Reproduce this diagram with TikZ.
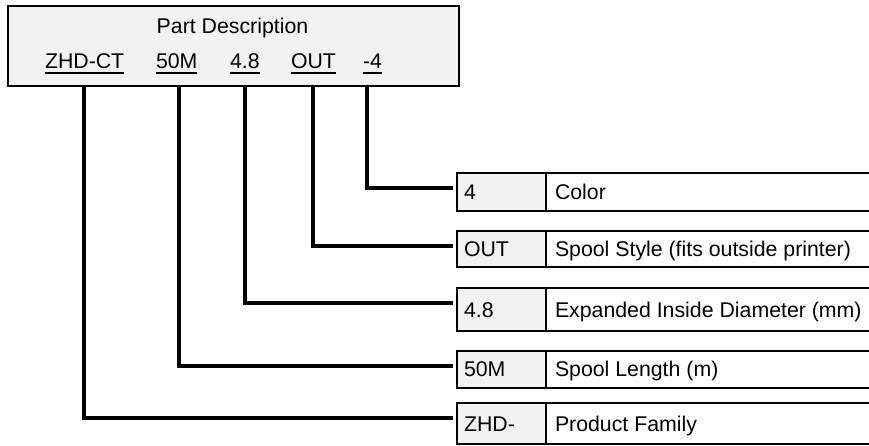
\documentclass[tikz,border=0pt]{standalone}
\usepackage{fontspec}
\setmainfont{Liberation Sans}
\definecolor{boxgray}{HTML}{F2F2F2}
\begin{document}
\begin{tikzpicture}[x=1pt,y=-1pt,
  txt/.style={inner sep=0pt, outer sep=0pt, font=\fontsize{21.3}{25}\selectfont},
  topbox/.style={draw, line width=2pt, fill=boxgray, inner sep=0pt, outer sep=0pt, anchor=north west},
  keycell/.style={draw, line width=2pt, fill=boxgray, minimum width=89pt, inner sep=0pt, outer sep=0pt, anchor=north west},
  desccell/.style={draw, line width=2pt, fill=white, minimum width=340pt, inner sep=0pt, outer sep=0pt, anchor=north west},
  conn/.style={line width=4pt, shorten >=4pt},
  uline/.style={line width=1.5pt}]
\useasboundingbox (0,0) rectangle (869,445);
\clip (0,0) rectangle (869,445);

% top box
\node[topbox, minimum width=451pt, minimum height=80.5pt] (top) at (7.5,5.5) {};
\node[txt, anchor=base] (title) at (232.5,33.3) {Part Description};
\node[txt, anchor=base west] (code1) at (45,68.5) {ZHD-CT};
\node[txt, anchor=base west] (code2) at (156,68.5) {50M};
\node[txt, anchor=base west] (code3) at (230,68.5) {4.8};
\node[txt, anchor=base west] (code4) at (291,68.5) {OUT};
\node[txt, anchor=base west] (code5) at (363,68.5) {-4};
\foreach \c in {code1,code2,code3,code4,code5}
  \draw[uline] ([yshift=-4.5pt]\c.base west) -- ([yshift=-4.5pt]\c.base east);

% rows
\node[keycell, minimum height=37.4pt] (k1) at (457,173.3) {};
\node[desccell, minimum height=37.4pt] (d1) at (k1.north east) {};
\node[keycell, minimum height=36.6pt] (k2) at (457,230.7) {};
\node[desccell, minimum height=36.6pt] (d2) at (k2.north east) {};
\node[keycell, minimum height=42.4pt] (k3) at (457,288.3) {};
\node[desccell, minimum height=42.4pt] (d3) at (k3.north east) {};
\node[keycell, minimum height=36.7pt] (k4) at (457,351) {};
\node[desccell, minimum height=36.7pt] (d4) at (k4.north east) {};
\node[keycell, minimum height=40.7pt] (k5) at (457,403.3) {};
\node[desccell, minimum height=40.7pt] (d5) at (k5.north east) {};

\node[txt, anchor=base west] (kt1) at ([xshift=7pt,yshift=-7.6pt]k1.west) {4};
\node[txt, anchor=base west] (dt1) at ([xshift=9pt,yshift=-7.6pt]d1.west) {Color};
\node[txt, anchor=base west] (kt2) at ([xshift=7pt,yshift=-7.6pt]k2.west) {OUT};
\node[txt, anchor=base west] (dt2) at ([xshift=9pt,yshift=-7.6pt]d2.west) {Spool Style (fits outside printer)};
\node[txt, anchor=base west] (kt3) at ([xshift=7pt,yshift=-7.6pt]k3.west) {4.8};
\node[txt, anchor=base west] (dt3) at ([xshift=9pt,yshift=-7.6pt]d3.west) {Expanded Inside Diameter (mm)};
\node[txt, anchor=base west] (kt4) at ([xshift=7pt,yshift=-7.6pt]k4.west) {50M};
\node[txt, anchor=base west] (dt4) at ([xshift=9pt,yshift=-7.6pt]d4.west) {Spool Length (m)};
\node[txt, anchor=base west] (kt5) at ([xshift=7pt,yshift=-7.6pt]k5.west) {ZHD-};
\node[txt, anchor=base west] (dt5) at ([xshift=9pt,yshift=-7.6pt]d5.west) {Product Family};

% connectors
\coordinate (c1) at (84,86);
\coordinate (c2) at (179,86);
\coordinate (c3) at (245,86);
\coordinate (c4) at (313,86);
\coordinate (c5) at (367,86);
\draw[conn] (c5) |- ([yshift=-15pt]k1.north west);
\draw[conn] (c4) |- ([yshift=-15pt]k2.north west);
\draw[conn] (c3) |- ([yshift=-15pt]k3.north west);
\draw[conn] (c2) |- ([yshift=-15pt]k4.north west);
\draw[conn] (c1) |- ([yshift=-15pt]k5.north west);
\end{tikzpicture}
\end{document}
